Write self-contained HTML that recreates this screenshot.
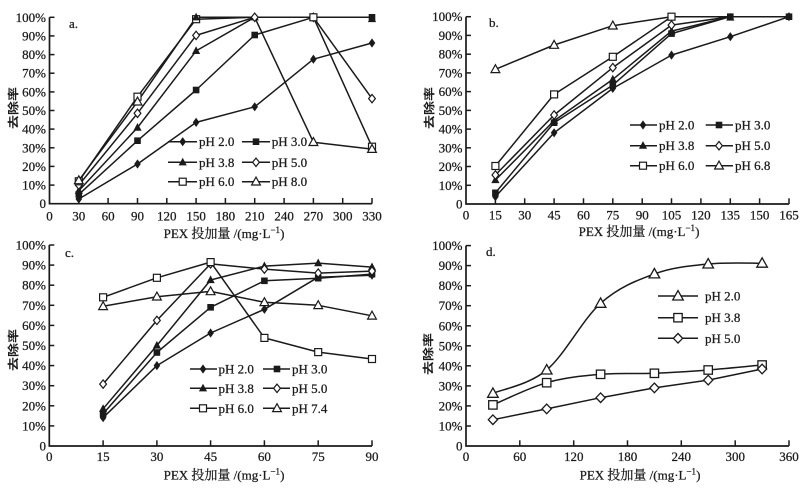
<!DOCTYPE html>
<html><head><meta charset="utf-8"><style>
html,body{margin:0;padding:0;background:#fff;}
svg{display:block;}
.t{font-family:"Liberation Serif","Noto Serif CJK SC",serif;font-size:13px;fill:#1a1a1a;stroke:#1a1a1a;stroke-width:0.25;}
.yl{font-family:"Noto Sans CJK SC","WenQuanYi Zen Hei",sans-serif;font-size:14px;font-weight:bold;fill:#1a1a1a;}
.ln{fill:none;stroke:#1a1a1a;stroke-width:1.5;stroke-linejoin:round;}
.ax{fill:none;stroke:#1a1a1a;stroke-width:1.7;}
.tk{stroke:#1a1a1a;stroke-width:1.5;}
</style></head><body>
<svg width="804" height="495" viewBox="0 0 804 495" xmlns="http://www.w3.org/2000/svg">
<defs>
<g id="fd"><polygon points="0,-4.6 3.3,0 0,4.6 -3.3,0" fill="#1a1a1a"/></g>
<g id="fs"><rect x="-3.3" y="-3.3" width="6.6" height="6.6" fill="#1a1a1a"/></g>
<g id="ft"><polygon points="0,-4.6 4.1,3.1 -4.1,3.1" fill="#1a1a1a"/></g>
<g id="od"><polygon points="0,-4.2 3.4,0 0,4.2 -3.4,0" fill="#fff" stroke="#1a1a1a" stroke-width="1.2"/></g>
<g id="os"><rect x="-3.5" y="-3.5" width="7" height="7" fill="#fff" stroke="#1a1a1a" stroke-width="1.2"/></g>
<g id="ot"><polygon points="0,-4.6 4.4,3.3 -4.4,3.3" fill="#fff" stroke="#1a1a1a" stroke-width="1.2"/></g>
<g id="Bot"><polygon points="0,-5.4 5.3,4 -5.3,4" fill="#fff" stroke="#1a1a1a" stroke-width="1.3"/></g>
<g id="Bos"><rect x="-4.2" y="-4.2" width="8.4" height="8.4" fill="#fff" stroke="#1a1a1a" stroke-width="1.3"/></g>
<g id="Bod"><polygon points="0,-4.8 4.6,0 0,4.8 -4.6,0" fill="#fff" stroke="#1a1a1a" stroke-width="1.3"/></g>
</defs>

<!-- ================= PANEL A ================= -->
<g>
<path class="ax" d="M49.5,17.3 V203.7 H372"/>
<g class="tk">
<line x1="49.5" y1="17.3" x2="54.5" y2="17.3"/><line x1="49.5" y1="35.9" x2="54.5" y2="35.9"/><line x1="49.5" y1="54.6" x2="54.5" y2="54.6"/><line x1="49.5" y1="73.2" x2="54.5" y2="73.2"/><line x1="49.5" y1="91.9" x2="54.5" y2="91.9"/><line x1="49.5" y1="110.5" x2="54.5" y2="110.5"/><line x1="49.5" y1="129.1" x2="54.5" y2="129.1"/><line x1="49.5" y1="147.8" x2="54.5" y2="147.8"/><line x1="49.5" y1="166.4" x2="54.5" y2="166.4"/><line x1="49.5" y1="185.1" x2="54.5" y2="185.1"/>
<line x1="78.8" y1="203.7" x2="78.8" y2="198"/><line x1="108.1" y1="203.7" x2="108.1" y2="198"/><line x1="137.5" y1="203.7" x2="137.5" y2="198"/><line x1="166.8" y1="203.7" x2="166.8" y2="198"/><line x1="196.1" y1="203.7" x2="196.1" y2="198"/><line x1="225.4" y1="203.7" x2="225.4" y2="198"/><line x1="254.7" y1="203.7" x2="254.7" y2="198"/><line x1="284.1" y1="203.7" x2="284.1" y2="198"/><line x1="313.4" y1="203.7" x2="313.4" y2="198"/><line x1="342.7" y1="203.7" x2="342.7" y2="198"/><line x1="372" y1="203.7" x2="372" y2="198"/>
</g>
<g class="t" text-anchor="end">
<text x="46" y="22">100%</text><text x="46" y="40.4">90%</text><text x="46" y="59.1">80%</text><text x="46" y="77.7">70%</text><text x="46" y="96.4">60%</text><text x="46" y="115">50%</text><text x="46" y="133.6">40%</text><text x="46" y="152.3">30%</text><text x="46" y="170.9">20%</text><text x="46" y="189.6">10%</text><text x="46" y="208.2">0</text>
</g>
<g class="t" text-anchor="middle">
<text x="49.5" y="220.5">0</text><text x="78.8" y="220.5">30</text><text x="108.1" y="220.5">60</text><text x="137.5" y="220.5">90</text><text x="166.8" y="220.5">120</text><text x="196.1" y="220.5">150</text><text x="225.4" y="220.5">180</text><text x="254.7" y="220.5">210</text><text x="284.1" y="220.5">240</text><text x="313.4" y="220.5">270</text><text x="342.7" y="220.5">300</text><text x="372" y="220.5">330</text>
<text x="224" y="238">PEX 投加量 /(mg·L<tspan dy="-5" font-size="9">−1</tspan><tspan dy="5">)</tspan></text>
</g>
<text class="t" x="69" y="28" font-size="12">a.</text>
<text class="yl" text-anchor="middle" dominant-baseline="central" transform="translate(12,108) rotate(-90) scale(1,0.78)">去除率</text>

<polyline class="ln" points="78.8,199.0 137.5,164.0 196.1,122.4 254.7,106.8 313.4,59.2 372,43.0"/>
<polyline class="ln" points="78.8,194.4 137.5,140.7 196.1,90.0 254.7,35.0 313.4,17.3 372,17.3"/>
<polyline class="ln" points="78.8,190.7 137.5,127.6 196.1,50.9 254.7,17.3 313.4,17.3 372,17.3"/>
<polyline class="ln" points="78.8,185.1 137.5,113.3 196.1,35.4 254.7,17.3 313.4,17.3 372,98.6"/>
<polyline class="ln" points="78.8,181.3 137.5,96.7 196.1,19.2 254.7,17.3 313.4,17.3 372,146.7"/>
<polyline class="ln" points="78.8,180.4 137.5,101.7 196.1,17.3 254.7,17.3 313.4,142.2 372,149.1"/>

<use href="#fd" x="78.8" y="199.0"/><use href="#fd" x="137.5" y="164.0"/><use href="#fd" x="196.1" y="122.4"/><use href="#fd" x="254.7" y="106.8"/><use href="#fd" x="313.4" y="59.2"/><use href="#fd" x="372" y="43.0"/>
<use href="#fs" x="78.8" y="194.4"/><use href="#fs" x="137.5" y="140.7"/><use href="#fs" x="196.1" y="90.0"/><use href="#fs" x="254.7" y="35.0"/><use href="#fs" x="313.4" y="17.3"/><use href="#fs" x="372" y="17.3"/>
<use href="#ft" x="78.8" y="190.7"/><use href="#ft" x="137.5" y="127.6"/><use href="#ft" x="196.1" y="50.9"/><use href="#ft" x="254.7" y="17.3"/><use href="#ft" x="313.4" y="17.3"/><use href="#ft" x="372" y="19"/>
<use href="#od" x="78.8" y="185.1"/><use href="#od" x="137.5" y="113.3"/><use href="#od" x="196.1" y="35.4"/><use href="#od" x="254.7" y="17.3"/><use href="#od" x="313.4" y="17.3"/><use href="#od" x="372" y="98.6"/>
<use href="#os" x="78.8" y="181.3"/><use href="#os" x="137.5" y="96.7"/><use href="#os" x="196.1" y="19.2"/><use href="#os" x="313.4" y="17.3"/><use href="#os" x="372" y="146.7"/>
<use href="#ot" x="78.8" y="180.4"/><use href="#ot" x="137.5" y="101.7"/><use href="#ft" x="196.1" y="17.3"/><use href="#ot" x="313.4" y="142.2"/><use href="#ot" x="372" y="149.1"/>

<!-- legend a -->
<g>
<line class="ln" x1="168" y1="141.7" x2="197" y2="141.7"/><use href="#fd" x="182.7" y="141.7"/><text class="t" x="199" y="146.2">pH 2.0</text>
<line class="ln" x1="242" y1="141.7" x2="270" y2="141.7"/><use href="#fs" x="256" y="141.7"/><text class="t" x="271.7" y="146.2">pH 3.0</text>
<line class="ln" x1="168" y1="162.3" x2="197" y2="162.3"/><use href="#ft" x="182.7" y="162.3"/><text class="t" x="199" y="166.8">pH 3.8</text>
<line class="ln" x1="242" y1="162.3" x2="270" y2="162.3"/><use href="#od" x="256" y="162.3"/><text class="t" x="271.7" y="166.8">pH 5.0</text>
<line class="ln" x1="168" y1="181.7" x2="197" y2="181.7"/><use href="#os" x="182.7" y="181.7"/><text class="t" x="199" y="186.2">pH 6.0</text>
<line class="ln" x1="242" y1="181.7" x2="270" y2="181.7"/><use href="#ot" x="256" y="181.7"/><text class="t" x="271.7" y="186.2">pH 8.0</text>
</g>
</g>

<!-- ================= PANEL B ================= -->
<g>
<path class="ax" d="M466,16.7 V204 H789"/>
<g class="tk">
<line x1="466" y1="16.7" x2="471" y2="16.7"/><line x1="466" y1="35.4" x2="471" y2="35.4"/><line x1="466" y1="54.2" x2="471" y2="54.2"/><line x1="466" y1="72.9" x2="471" y2="72.9"/><line x1="466" y1="91.6" x2="471" y2="91.6"/><line x1="466" y1="110.4" x2="471" y2="110.4"/><line x1="466" y1="129.1" x2="471" y2="129.1"/><line x1="466" y1="147.8" x2="471" y2="147.8"/><line x1="466" y1="166.5" x2="471" y2="166.5"/><line x1="466" y1="185.3" x2="471" y2="185.3"/>
<line x1="495.4" y1="204" x2="495.4" y2="198.3"/><line x1="524.7" y1="204" x2="524.7" y2="198.3"/><line x1="554.1" y1="204" x2="554.1" y2="198.3"/><line x1="583.5" y1="204" x2="583.5" y2="198.3"/><line x1="612.8" y1="204" x2="612.8" y2="198.3"/><line x1="642.2" y1="204" x2="642.2" y2="198.3"/><line x1="671.5" y1="204" x2="671.5" y2="198.3"/><line x1="700.9" y1="204" x2="700.9" y2="198.3"/><line x1="730.3" y1="204" x2="730.3" y2="198.3"/><line x1="759.6" y1="204" x2="759.6" y2="198.3"/><line x1="789" y1="204" x2="789" y2="198.3"/>
</g>
<g class="t" text-anchor="end">
<text x="462.5" y="21.2">100%</text><text x="462.5" y="39.9">90%</text><text x="462.5" y="58.7">80%</text><text x="462.5" y="77.4">70%</text><text x="462.5" y="96.1">60%</text><text x="462.5" y="114.9">50%</text><text x="462.5" y="133.6">40%</text><text x="462.5" y="152.3">30%</text><text x="462.5" y="171">20%</text><text x="462.5" y="189.8">10%</text><text x="462.5" y="208.5">0</text>
</g>
<g class="t" text-anchor="middle">
<text x="466" y="219.5">0</text><text x="495.4" y="219.5">15</text><text x="524.7" y="219.5">30</text><text x="554.1" y="219.5">45</text><text x="583.5" y="219.5">60</text><text x="612.8" y="219.5">75</text><text x="642.2" y="219.5">90</text><text x="671.5" y="219.5">105</text><text x="700.9" y="219.5">120</text><text x="730.3" y="219.5">135</text><text x="759.6" y="219.5">150</text><text x="789" y="219.5">165</text>
<text x="639" y="236">PEX 投加量 /(mg·L<tspan dy="-5" font-size="9">−1</tspan><tspan dy="5">)</tspan></text>
</g>
<text class="t" x="489" y="27" font-size="12">b.</text>
<text class="yl" text-anchor="middle" dominant-baseline="central" transform="translate(428,108) rotate(-90) scale(1,0.78)">去除率</text>

<polyline class="ln" points="495.4,196.7 554.1,132.8 612.8,88.4 671.5,55.1 730.3,36.7 789,16.7"/>
<polyline class="ln" points="495.4,192.8 554.1,122.7 612.8,85.1 671.5,33.6 730.3,16.7 789,16.7"/>
<polyline class="ln" points="495.4,180.0 554.1,120.7 612.8,79.4 671.5,31.1 730.3,16.7 789,16.7"/>
<polyline class="ln" points="495.4,175.0 554.1,115.0 612.8,67.6 671.5,25.1 730.3,16.7 789,16.7"/>
<polyline class="ln" points="495.4,166.0 554.1,94.4 612.8,56.8 671.5,16.7 730.3,16.7 789,16.7"/>
<polyline class="ln" points="495.4,69.3 554.1,45.0 612.8,25.7 671.5,16.7 730.3,16.7 789,16.7"/>

<use href="#fd" x="495.4" y="196.7"/><use href="#fd" x="554.1" y="132.8"/><use href="#fd" x="612.8" y="88.4"/><use href="#fd" x="671.5" y="55.1"/><use href="#fd" x="730.3" y="36.7"/><use href="#fd" x="789" y="16.7"/>
<use href="#fs" x="495.4" y="192.8"/><use href="#fs" x="554.1" y="122.7"/><use href="#fs" x="612.8" y="85.1"/><use href="#fs" x="671.5" y="33.6"/>
<use href="#ft" x="495.4" y="180.0"/><use href="#ft" x="554.1" y="120.7"/><use href="#ft" x="612.8" y="79.4"/><use href="#ft" x="671.5" y="31.1"/>
<use href="#od" x="495.4" y="175.0"/><use href="#od" x="554.1" y="115.0"/><use href="#od" x="612.8" y="67.6"/><use href="#od" x="671.5" y="25.1"/>
<use href="#os" x="495.4" y="166.0"/><use href="#os" x="554.1" y="94.4"/><use href="#os" x="612.8" y="56.8"/><use href="#os" x="671.5" y="16.7"/>
<use href="#ot" x="495.4" y="69.3"/><use href="#ot" x="554.1" y="45.0"/><use href="#ot" x="612.8" y="25.7"/>
<use href="#fs" x="730.3" y="16.7"/><use href="#ft" x="730.3" y="17.5"/><use href="#fs" x="789" y="16.7"/>

<!-- legend b -->
<g>
<line class="ln" x1="630" y1="125" x2="657" y2="125"/><use href="#fd" x="643" y="125"/><text class="t" x="659" y="129.5">pH 2.0</text>
<line class="ln" x1="705.7" y1="125" x2="733" y2="125"/><use href="#fs" x="719" y="125"/><text class="t" x="735" y="129.5">pH 3.0</text>
<line class="ln" x1="630" y1="145.7" x2="657" y2="145.7"/><use href="#ft" x="643" y="145.7"/><text class="t" x="659" y="150.2">pH 3.8</text>
<line class="ln" x1="705.7" y1="145.7" x2="733" y2="145.7"/><use href="#od" x="719" y="145.7"/><text class="t" x="735" y="150.2">pH 5.0</text>
<line class="ln" x1="630" y1="165.7" x2="657" y2="165.7"/><use href="#os" x="643" y="165.7"/><text class="t" x="659" y="170.2">pH 6.0</text>
<line class="ln" x1="705.7" y1="165.7" x2="733" y2="165.7"/><use href="#ot" x="719" y="165.7"/><text class="t" x="735" y="170.2">pH 6.8</text>
</g>
</g>

<!-- ================= PANEL C ================= -->
<g>
<path class="ax" d="M49.3,245 V446 H372"/>
<g class="tk">
<line x1="49.3" y1="245" x2="54.3" y2="245"/><line x1="49.3" y1="265.1" x2="54.3" y2="265.1"/><line x1="49.3" y1="285.2" x2="54.3" y2="285.2"/><line x1="49.3" y1="305.3" x2="54.3" y2="305.3"/><line x1="49.3" y1="325.4" x2="54.3" y2="325.4"/><line x1="49.3" y1="345.5" x2="54.3" y2="345.5"/><line x1="49.3" y1="365.6" x2="54.3" y2="365.6"/><line x1="49.3" y1="385.7" x2="54.3" y2="385.7"/><line x1="49.3" y1="405.8" x2="54.3" y2="405.8"/><line x1="49.3" y1="425.9" x2="54.3" y2="425.9"/>
<line x1="103.1" y1="446" x2="103.1" y2="440.3"/><line x1="156.9" y1="446" x2="156.9" y2="440.3"/><line x1="210.6" y1="446" x2="210.6" y2="440.3"/><line x1="264.4" y1="446" x2="264.4" y2="440.3"/><line x1="318.2" y1="446" x2="318.2" y2="440.3"/><line x1="372" y1="446" x2="372" y2="440.3"/>
</g>
<g class="t" text-anchor="end">
<text x="46" y="249.5">100%</text><text x="46" y="269.6">90%</text><text x="46" y="289.7">80%</text><text x="46" y="309.8">70%</text><text x="46" y="329.9">60%</text><text x="46" y="350">50%</text><text x="46" y="370.1">40%</text><text x="46" y="390.2">30%</text><text x="46" y="410.3">20%</text><text x="46" y="430.4">10%</text><text x="46" y="450.5">0</text>
</g>
<g class="t" text-anchor="middle">
<text x="49.3" y="461">0</text><text x="103.1" y="461">15</text><text x="156.9" y="461">30</text><text x="210.6" y="461">45</text><text x="264.4" y="461">60</text><text x="318.2" y="461">75</text><text x="372" y="461">90</text>
<text x="224" y="479.5">PEX 投加量 /(mg·L<tspan dy="-5" font-size="9">−1</tspan><tspan dy="5">)</tspan></text>
</g>
<text class="t" x="65" y="257" font-size="12">c.</text>
<text class="yl" text-anchor="middle" dominant-baseline="central" transform="translate(12,350) rotate(-90) scale(1,0.78)">去除率</text>

<polyline class="ln" points="103.1,417.7 156.9,365.6 210.6,333.0 264.4,309.3 318.2,277.2 372,275.2"/>
<polyline class="ln" points="103.1,413.8 156.9,352.5 210.6,307.3 264.4,280.8 318.2,278.2 372,274.1"/>
<polyline class="ln" points="103.1,408.8 156.9,345.5 210.6,280.0 264.4,266.1 318.2,263.1 372,267.1"/>
<polyline class="ln" points="103.1,384.1 156.9,320.4 210.6,263.9 264.4,269.1 318.2,273.1 372,271.1"/>
<polyline class="ln" points="103.1,297.3 156.9,277.8 210.6,262.1 264.4,337.9 318.2,352.1 372,359.0"/>
<polyline class="ln" points="103.1,306.3 156.9,296.7 210.6,291.4 264.4,302.3 318.2,305.3 372,315.8"/>

<use href="#fd" x="103.1" y="417.7"/><use href="#fd" x="156.9" y="365.6"/><use href="#fd" x="210.6" y="333.0"/><use href="#fd" x="264.4" y="309.3"/><use href="#fd" x="318.2" y="277.2"/><use href="#fd" x="372" y="275.2"/>
<use href="#fs" x="103.1" y="413.8"/><use href="#fs" x="156.9" y="352.5"/><use href="#fs" x="210.6" y="307.3"/><use href="#fs" x="264.4" y="280.8"/><use href="#fs" x="318.2" y="278.2"/><use href="#fs" x="372" y="274.1"/>
<use href="#ft" x="103.1" y="408.8"/><use href="#ft" x="156.9" y="345.5"/><use href="#ft" x="210.6" y="280.0"/><use href="#ft" x="264.4" y="266.1"/><use href="#ft" x="318.2" y="263.1"/><use href="#ft" x="372" y="267.1"/>
<use href="#od" x="103.1" y="384.1"/><use href="#od" x="156.9" y="320.4"/><use href="#od" x="210.6" y="263.9"/><use href="#od" x="264.4" y="269.1"/><use href="#od" x="318.2" y="273.1"/><use href="#od" x="372" y="271.1"/>
<use href="#os" x="103.1" y="297.3"/><use href="#os" x="156.9" y="277.8"/><use href="#os" x="210.6" y="262.1"/><use href="#os" x="264.4" y="337.9"/><use href="#os" x="318.2" y="352.1"/><use href="#os" x="372" y="359.0"/>
<use href="#ot" x="103.1" y="306.3"/><use href="#ot" x="156.9" y="296.7"/><use href="#ot" x="210.6" y="291.4"/><use href="#ot" x="264.4" y="302.3"/><use href="#ot" x="318.2" y="305.3"/><use href="#ot" x="372" y="315.8"/>

<!-- legend c -->
<g>
<line class="ln" x1="190" y1="369" x2="217" y2="369"/><use href="#fd" x="203" y="369"/><text class="t" x="218.5" y="373.5">pH 2.0</text>
<line class="ln" x1="263" y1="369" x2="290" y2="369"/><use href="#fs" x="277" y="369"/><text class="t" x="292" y="373.5">pH 3.0</text>
<line class="ln" x1="190" y1="388.3" x2="217" y2="388.3"/><use href="#ft" x="203" y="388.3"/><text class="t" x="218.5" y="392.8">pH 3.8</text>
<line class="ln" x1="263" y1="388.3" x2="290" y2="388.3"/><use href="#od" x="277" y="388.3"/><text class="t" x="292" y="392.8">pH 5.0</text>
<line class="ln" x1="190" y1="408.3" x2="217" y2="408.3"/><use href="#os" x="203" y="408.3"/><text class="t" x="218.5" y="412.8">pH 6.0</text>
<line class="ln" x1="263" y1="408.3" x2="290" y2="408.3"/><use href="#ot" x="277" y="408.3"/><text class="t" x="292" y="412.8">pH 7.4</text>
</g>
</g>

<!-- ================= PANEL D ================= -->
<g>
<path class="ax" d="M466,245.6 V446 H789"/>
<g class="tk">
<line x1="466" y1="245.6" x2="471" y2="245.6"/><line x1="466" y1="265.6" x2="471" y2="265.6"/><line x1="466" y1="285.7" x2="471" y2="285.7"/><line x1="466" y1="305.7" x2="471" y2="305.7"/><line x1="466" y1="325.8" x2="471" y2="325.8"/><line x1="466" y1="345.8" x2="471" y2="345.8"/><line x1="466" y1="365.8" x2="471" y2="365.8"/><line x1="466" y1="385.9" x2="471" y2="385.9"/><line x1="466" y1="405.9" x2="471" y2="405.9"/><line x1="466" y1="426" x2="471" y2="426"/>
<line x1="519.8" y1="446" x2="519.8" y2="440.3"/><line x1="573.7" y1="446" x2="573.7" y2="440.3"/><line x1="627.5" y1="446" x2="627.5" y2="440.3"/><line x1="681.3" y1="446" x2="681.3" y2="440.3"/><line x1="735.2" y1="446" x2="735.2" y2="440.3"/><line x1="789" y1="446" x2="789" y2="440.3"/>
</g>
<g class="t" text-anchor="end">
<text x="462.5" y="250.1">100%</text><text x="462.5" y="270.1">90%</text><text x="462.5" y="290.2">80%</text><text x="462.5" y="310.2">70%</text><text x="462.5" y="330.3">60%</text><text x="462.5" y="350.3">50%</text><text x="462.5" y="370.3">40%</text><text x="462.5" y="390.4">30%</text><text x="462.5" y="410.4">20%</text><text x="462.5" y="430.5">10%</text><text x="462.5" y="450.5">0</text>
</g>
<g class="t" text-anchor="middle">
<text x="466" y="461">0</text><text x="519.8" y="461">60</text><text x="573.7" y="461">120</text><text x="627.5" y="461">180</text><text x="681.3" y="461">240</text><text x="735.2" y="461">300</text><text x="789" y="461">360</text>
<text x="640" y="479.5">PEX 投加量 /(mg·L<tspan dy="-5" font-size="9">−1</tspan><tspan dy="5">)</tspan></text>
</g>
<text class="t" x="486" y="256" font-size="12">d.</text>
<text class="yl" text-anchor="middle" dominant-baseline="central" transform="translate(427,354) rotate(-90) scale(1,0.78)">去除率</text>

<path class="ln" d="M492.9,393.3 C501.9,389.4 528.75,385.0 546.7,370.0 C564.65,355.0 582.65,319.3 600.6,303.3 C618.55,287.3 636.47,280.45 654.4,273.9 C672.33,267.35 690.25,265.8 708.2,264.0 C726.15,262.2 753.1,263.3 762.1,263.2"/>
<path class="ln" d="M492.9,404.9 C501.9,401.2 528.75,387.8 546.7,382.7 C564.65,377.6 582.65,375.87 600.6,374.3 C618.55,372.73 636.47,374.02 654.4,373.3 C672.33,372.58 690.25,371.38 708.2,370.0 C726.15,368.62 753.1,365.83 762.1,365.0"/>
<polyline class="ln" points="492.9,419.7 546.7,408.9 600.6,397.7 654.4,387.9 708.2,380.1 762.1,369.0"/>

<use href="#Bot" x="492.9" y="393.3"/><use href="#Bot" x="546.7" y="370.0"/><use href="#Bot" x="600.6" y="303.3"/><use href="#Bot" x="654.4" y="273.9"/><use href="#Bot" x="708.2" y="264.0"/><use href="#Bot" x="762.1" y="263.2"/>
<use href="#Bos" x="492.9" y="404.9"/><use href="#Bos" x="546.7" y="382.7"/><use href="#Bos" x="600.6" y="374.3"/><use href="#Bos" x="654.4" y="373.3"/><use href="#Bos" x="708.2" y="370.0"/><use href="#Bos" x="762.1" y="365.0"/>
<use href="#Bod" x="492.9" y="419.7"/><use href="#Bod" x="546.7" y="408.9"/><use href="#Bod" x="600.6" y="397.7"/><use href="#Bod" x="654.4" y="387.9"/><use href="#Bod" x="708.2" y="380.1"/><use href="#Bod" x="762.1" y="369.0"/>

<!-- legend d -->
<g>
<line class="ln" x1="658" y1="296" x2="698" y2="296"/><use href="#Bot" x="678" y="296"/><text class="t" x="705" y="300.5">pH 2.0</text>
<line class="ln" x1="658" y1="317.7" x2="698" y2="317.7"/><use href="#Bos" x="678" y="317.7"/><text class="t" x="705" y="322.2">pH 3.8</text>
<line class="ln" x1="658" y1="338.3" x2="698" y2="338.3"/><use href="#Bod" x="678" y="338.3"/><text class="t" x="705" y="342.8">pH 5.0</text>
</g>
</g>
</svg>
</body></html>
